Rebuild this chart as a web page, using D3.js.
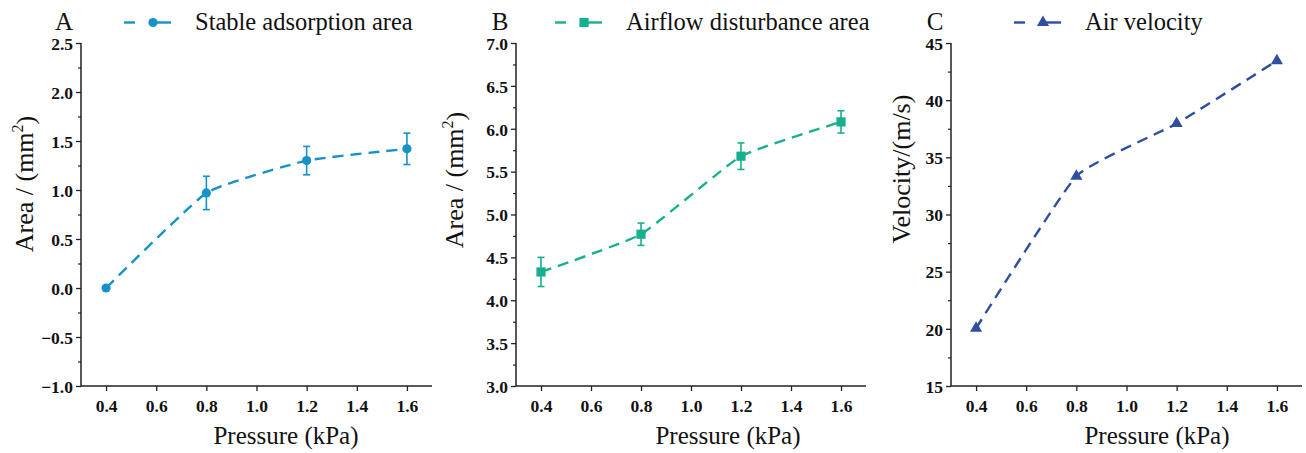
<!DOCTYPE html>
<html>
<head>
<meta charset="utf-8">
<script src="https://cdn.jsdelivr.net/npm/d3@7"></script>
<style>
  html, body { margin: 0; padding: 0; background: #fff; }
  svg { display: block; }
  .tick text { font-family: "Liberation Serif", "Times New Roman", serif; font-weight: bold; font-size: 17.5px; fill: #111; }
  .title { font-family: "Liberation Serif", "Times New Roman", serif; font-size: 25px; fill: #111; }
  .legend { font-family: "Liberation Serif", "Times New Roman", serif; font-size: 24.5px; fill: #111; }
  .ytitle { font-family: "Liberation Serif", "Times New Roman", serif; font-size: 26px; fill: #111; }
</style>
</head>
<body>
<svg id="chart" width="1306" height="453"></svg>
<script>
// Shared x values (pressure, kPa)
const pressure = [0.4, 0.8, 1.2, 1.6];
const xTicks = [0.4, 0.6, 0.8, 1.0, 1.2, 1.4, 1.6];

// Panel A: stable adsorption area (mm²) with error
const stableArea = [0.0, 0.97, 1.30, 1.42];
const stableErr = [0, 0.17, 0.145, 0.16];

// Panel B: airflow disturbance area (mm²) with error
const disturbArea = [4.33, 4.77, 5.68, 6.08];
const disturbErr = [0.17, 0.13, 0.155, 0.13];

// Panel C: air velocity (m/s)
const airVelocity = [20.05, 33.35, 37.95, 43.45];

// Y tick labels per panel
const yTicksA = [-1.0, -0.5, 0.0, 0.5, 1.0, 1.5, 2.0, 2.5];
const yTicksB = [3.0, 3.5, 4.0, 4.5, 5.0, 5.5, 6.0, 6.5, 7.0];
const yTicksC = [15, 20, 25, 30, 35, 40, 45];

const svg = d3.select("#chart");
const plotTop = 43, plotBottom = 386;

const panels = [
  {
    letter: "A", letterX: 64, left: 81, right: 432,
    yDomain: [-1.0, 2.5], yTicks: yTicksA, fmt: d3.format(".1f"),
    values: stableArea, errors: stableErr, color: "#1592c8", marker: "circle",
    legend: "Stable adsorption area", legX: 124,
    yTitle: ["Area / (mm", "2", ")"], yTitleX: 33, yTitleY: 184, xTitleX: 286
  },
  {
    letter: "B", letterX: 500, left: 516, right: 866,
    yDomain: [3.0, 7.0], yTicks: yTicksB, fmt: d3.format(".1f"),
    values: disturbArea, errors: disturbErr, color: "#17b08f", marker: "square",
    legend: "Airflow disturbance area", legX: 555,
    yTitle: ["Area / (mm", "2", ")"], yTitleX: 463, yTitleY: 180, xTitleX: 728
  },
  {
    letter: "C", letterX: 935, left: 951, right: 1302,
    yDomain: [15, 45], yTicks: yTicksC, fmt: d3.format("d"),
    values: airVelocity, errors: null, color: "#2f4ea0", marker: "triangle",
    legend: "Air velocity", legX: 1014,
    yTitle: ["Velocity/(m/s)"], yTitleX: 910, yTitleY: 169, xTitleX: 1157
  }
];

const minus = s => s.replace("-", "\u2212");

function drawMarker(g, type, cx, cy, color) {
  if (type === "circle") {
    g.append("circle").attr("cx", cx).attr("cy", cy).attr("r", 4.6).attr("fill", color);
  } else if (type === "square") {
    g.append("rect").attr("x", cx - 4.6).attr("y", cy - 4.6).attr("width", 9.2).attr("height", 9.2).attr("fill", color);
  } else {
    g.append("path").attr("d", d3.symbol(d3.symbolTriangle, 64)()).attr("transform", `translate(${cx},${cy})`).attr("fill", color);
  }
}

panels.forEach(p => {
  const x = d3.scaleLinear().domain([0.3, 1.7]).range([p.left, p.right]);
  const y = d3.scaleLinear().domain(p.yDomain).range([plotBottom, plotTop]);
  const g = svg.append("g");

  // minor ticks on y axis (midpoints)
  const step = p.yTicks[1] - p.yTicks[0];
  const minors = p.yTicks.slice(0, -1).map(v => v + step / 2);
  g.append("g").attr("transform", `translate(${p.left},0)`)
    .call(d3.axisLeft(y).tickValues(minors).tickSize(3).tickFormat(""))
    .call(a => a.select(".domain").remove())
    .call(a => a.selectAll("line").attr("stroke", "#222").attr("stroke-width", 1.2));

  // y axis
  g.append("g").attr("transform", `translate(${p.left},0)`)
    .call(d3.axisLeft(y).tickValues(p.yTicks).tickSize(5).tickPadding(3).tickFormat(d => minus(p.fmt(d))))
    .call(a => a.select(".domain").attr("stroke", "#222").attr("stroke-width", 1.5).attr("d", `M0,${plotBottom}V${plotTop}`))
    .call(a => a.selectAll(".tick line").attr("stroke", "#222").attr("stroke-width", 1.3))
    .call(a => a.selectAll("text").attr("dy", "0.36em"));

  // x axis
  g.append("g").attr("transform", `translate(0,${plotBottom})`)
    .call(d3.axisBottom(x).tickValues(xTicks).tickSize(5).tickPadding(9).tickFormat(d3.format(".1f")))
    .call(a => a.select(".domain").attr("stroke", "#222").attr("stroke-width", 1.5).attr("d", `M${p.left},0H${p.right}`))
    .call(a => a.selectAll(".tick line").attr("stroke", "#222").attr("stroke-width", 1.3));

  // series line, lightly smoothed
  const pts = pressure.map((v, i) => [x(v), y(p.values[i])]);
  g.append("path")
    .attr("d", d3.line().curve(d3.curveCardinal.tension(0.6))(pts))
    .attr("fill", "none").attr("stroke", p.color).attr("stroke-width", 2.4)
    .attr("stroke-dasharray", "11,7");

  // error bars
  if (p.errors) {
    pressure.forEach((v, i) => {
      const e = p.errors[i];
      if (!e) return;
      const cx = x(v), y1 = y(p.values[i] + e), y2 = y(p.values[i] - e);
      g.append("line").attr("x1", cx).attr("x2", cx).attr("y1", y1).attr("y2", y2).attr("stroke", p.color).attr("stroke-width", 1.6);
      [y1, y2].forEach(yy => g.append("line").attr("x1", cx - 3.5).attr("x2", cx + 3.5).attr("y1", yy).attr("y2", yy).attr("stroke", p.color).attr("stroke-width", 1.6));
    });
  }

  // markers
  pts.forEach(([cx, cy]) => drawMarker(g, p.marker, cx, cy, p.color));

  // panel letter
  g.append("text").attr("class", "title").attr("x", p.letterX).attr("y", 30).attr("text-anchor", "middle").text(p.letter);

  // legend
  const ly = 22.5, lx = p.legX;
  g.append("line").attr("x1", lx).attr("x2", lx + 11).attr("y1", ly).attr("y2", ly).attr("stroke", p.color).attr("stroke-width", 2.4);
  g.append("line").attr("x1", lx + 27).attr("x2", lx + 47).attr("y1", ly).attr("y2", ly).attr("stroke", p.color).attr("stroke-width", 2.4);
  drawMarker(g, p.marker, lx + 29, ly, p.color);
  g.append("text").attr("class", "legend").attr("x", lx + 71).attr("y", 30).text(p.legend);

  // x title
  g.append("text").attr("class", "title").attr("x", p.xTitleX).attr("y", 444).attr("text-anchor", "middle").text("Pressure (kPa)");

  // y title
  const yt = g.append("text").attr("class", "ytitle").attr("text-anchor", "middle")
    .attr("transform", `translate(${p.yTitleX},${p.yTitleY}) rotate(-90)`);
  yt.append("tspan").text(p.yTitle[0]);
  if (p.yTitle.length > 1) {
    yt.append("tspan").attr("font-size", "16px").attr("dy", "-0.6em").text(p.yTitle[1]);
    yt.append("tspan").attr("dy", "0.4em").text(p.yTitle[2]);
  }
});
</script>
</body>
</html>
